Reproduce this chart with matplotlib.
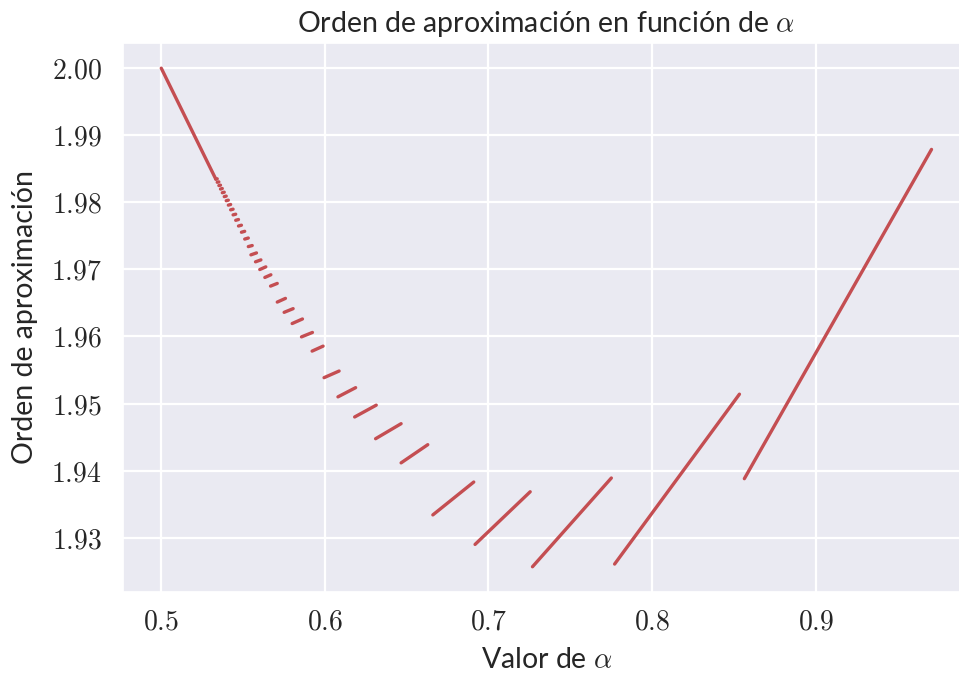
import matplotlib
matplotlib.use("Agg")
import matplotlib.pyplot as plt
import seaborn as sns
from matplotlib.ticker import FuncFormatter

# Segment data (alpha start/end, order start/end)
seg_x0 = [0.5000, 0.5333, 0.5342, 0.5352, 0.5362, 0.5373, 0.5385, 0.5397, 0.5410,
          0.5424, 0.5439, 0.5455, 0.5472, 0.5490, 0.5510, 0.5532, 0.5548, 0.5576,
          0.5602, 0.5633, 0.5668, 0.5709, 0.5751, 0.5800, 0.5857, 0.5922, 0.5995,
          0.6080, 0.6182, 0.6310, 0.6466, 0.6660, 0.6918, 0.7269, 0.7771, 0.8564]
seg_x1 = [0.5333, 0.5342, 0.5352, 0.5362, 0.5373, 0.5385, 0.5397, 0.5410, 0.5424,
          0.5439, 0.5455, 0.5472, 0.5490, 0.5510, 0.5532, 0.5556, 0.5582, 0.5609,
          0.5639, 0.5670, 0.5709, 0.5759, 0.5806, 0.5863, 0.5924, 0.5989, 0.6087,
          0.6188, 0.6314, 0.6466, 0.6629, 0.6910, 0.7255, 0.7751, 0.8534, 0.9708]
seg_y0 = [2.00000, 1.98345, 1.98299, 1.98250, 1.98198, 1.98143, 1.98085, 1.98024, 1.97958,
          1.97888, 1.97813, 1.97732, 1.97647, 1.97554, 1.97452, 1.97340, 1.97217, 1.97113,
          1.96998, 1.96880, 1.96751, 1.96513, 1.96360, 1.96193, 1.95994, 1.95782, 1.95386,
          1.95100, 1.94800, 1.94476, 1.94116, 1.93340, 1.92900, 1.92567, 1.92607, 1.93880]
seg_y1 = [1.98348, 1.98351, 1.98305, 1.98256, 1.98206, 1.98151, 1.98093, 1.98032, 1.97968,
          1.97898, 1.97823, 1.97744, 1.97659, 1.97568, 1.97468, 1.97356, 1.97246, 1.97142,
          1.97038, 1.96920, 1.96791, 1.96568, 1.96415, 1.96261, 1.96060, 1.95856, 1.95485,
          1.95237, 1.94976, 1.94700, 1.94387, 1.93830, 1.93685, 1.93890, 1.95140, 1.98789]

x_ticks = [0.5, 0.6, 0.7, 0.8, 0.9]
y_ticks = [1.93, 1.94, 1.95, 1.96, 1.97, 1.98, 1.99, 2.00]

sns.set_theme(style="darkgrid")
plt.rcParams['font.family'] = ['Lato', 'DejaVu Sans']
plt.rcParams['mathtext.fontset'] = 'cm'

fig = plt.figure(figsize=(9.59, 6.79), dpi=100)
ax = fig.add_axes([0.128, 0.1286, 0.8835, 0.8077])

color = '#C44E52'
for x0, x1, y0, y1 in zip(seg_x0, seg_x1, seg_y0, seg_y1):
    ax.plot([x0, x1], [y0, y1], color=color, lw=2.4, solid_capstyle='round')

ax.set_xticks(x_ticks)
ax.set_yticks(y_ticks)
ax.xaxis.set_major_formatter(FuncFormatter(lambda v, p: f'${v:.1f}$'))
ax.yaxis.set_major_formatter(FuncFormatter(lambda v, p: f'${v:.2f}$'))
ax.tick_params(axis='both', labelsize=20, length=0, colors='#262626')
ax.tick_params(axis='x', pad=12)
ax.tick_params(axis='y', pad=15)
ax.grid(True, color='white', lw=1.6)

ax.set_xlabel(r'Valor de $\alpha$', fontsize=20.5, color='#262626', labelpad=9)
ax.set_ylabel('Orden de aproximación', fontsize=20.5, color='#262626', labelpad=9)
ax.set_title(r'Orden de aproximación en función de $\alpha$', fontsize=20.5,
             color='#262626', pad=8)

fig.savefig('out.png', dpi=100)
